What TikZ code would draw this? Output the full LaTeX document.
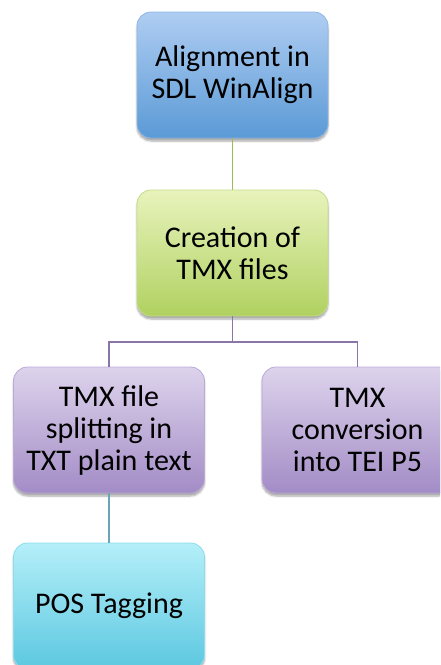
\documentclass[tikz,border=0pt]{standalone}
\usepackage{fontspec}
\setmainfont{Carlito}
\usetikzlibrary{shadows.blur}
\definecolor{bluetop}{HTML}{AFCDF2}
\definecolor{bluebot}{HTML}{5B9AD6}
\definecolor{blueedge}{HTML}{8DB6E6}
\definecolor{greentop}{HTML}{E8F3BC}
\definecolor{greenbot}{HTML}{B0D160}
\definecolor{greenedge}{HTML}{C3DC8A}
\definecolor{purptop}{HTML}{DDD3EC}
\definecolor{purpbot}{HTML}{A38CC6}
\definecolor{purpedge}{HTML}{BBA9D6}
\definecolor{cyantop}{HTML}{B4EFF9}
\definecolor{cyanbot}{HTML}{5CC8E0}
\definecolor{cyanedge}{HTML}{8ADCEC}
\definecolor{lgreen}{HTML}{9BBB59}
\definecolor{lpurp}{HTML}{8A74A8}
\definecolor{lteal}{HTML}{6AA6B8}
\begin{document}
\begin{tikzpicture}[x=1pt,y=1pt,
  box/.style={rounded corners=14pt, minimum width=191pt, minimum height=126pt,
    align=center, inner sep=2pt, line width=0.8pt,
    font=\fontsize{30}{32}\selectfont,
    blur shadow={shadow xshift=0pt, shadow yshift=-3pt, shadow blur steps=6, shadow opacity=35}},
  bluebox/.style={box, draw=blueedge, top color=bluetop, bottom color=bluebot},
  greenbox/.style={box, draw=greenedge, top color=greentop, bottom color=greenbot},
  purpbox/.style={box, draw=purpedge, top color=purptop, bottom color=purpbot},
  cyanbox/.style={box, draw=cyanedge, top color=cyantop, bottom color=cyanbot},
  conn/.style={line width=1.3pt}]
\useasboundingbox (0,0) rectangle (440,-665);
\clip (0,0) rectangle (440,-665);
\node[bluebox] (b1) at (232.5,-75) {Alignment in\\SDL WinAlign};
\node[greenbox] (b2) at (232.5,-253) {Creation of\\TMX files};
\node[purpbox] (b3) at (109,-430) {TMX file\\splitting in\\TXT plain text};
\node[purpbox] (b4) at (357.5,-430) {TMX\\conversion\\into TEI P5};
\node[cyanbox] (b5) at (109,-606) {POS Tagging};
\coordinate (j) at (232.5,-342);
\begin{scope}[on background layer/.style={}]
\end{scope}
\draw[conn, lgreen] (b1.south) -- (b2.north);
\draw[conn, lpurp] (b2.south) -- (j) -| (b3.north);
\draw[conn, lpurp] (j) -| (b4.north);
\draw[conn, lteal] (b3.south) -- (b5.north);
\end{tikzpicture}
\end{document}
